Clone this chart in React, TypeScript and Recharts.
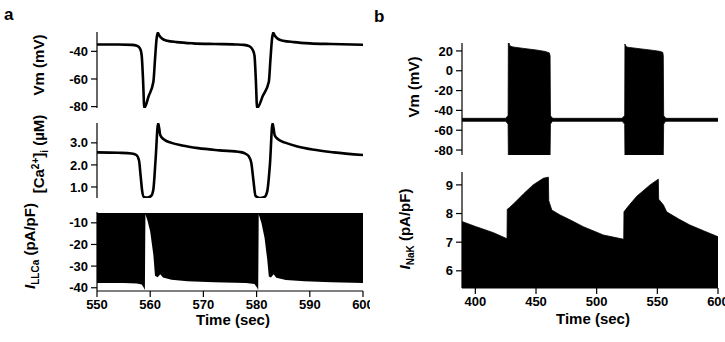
import React from 'react';
import { ComposedChart, Line, Area, XAxis, YAxis } from 'recharts';

const FONT = '"Liberation Sans", Arial, sans-serif';

// Panel a: membrane potential (mV)
const vmATime = [550, 554, 556.5, 557.5, 558.1, 558.4, 558.65, 558.9, 559.7, 560.6, 560.9, 561.2, 561.4, 561.7, 562.3, 563.2, 565, 568, 572, 576, 577.6, 578.6, 579.2, 579.6, 579.85, 580.1, 581.2, 582.3, 582.6, 582.9, 583.1, 583.4, 584, 585, 587, 590, 594, 600];
const vmAValue = [-35, -35, -35.3, -36, -38, -43, -60, -81, -72.5, -62, -46, -31, -26.5, -28.5, -31, -32.3, -33.3, -34.2, -34.7, -35, -35.3, -36.2, -38.5, -43, -60, -81, -72, -62, -46, -31, -26.5, -28.5, -31, -32.3, -33.3, -34.2, -34.7, -35.2];

// Panel a: [Ca2+]i (uM)
const caTime = [550, 554, 556.5, 557.4, 557.9, 558.2, 558.5, 558.8, 559.5, 560.2, 560.6, 561.0, 561.5, 561.9, 562.6, 564, 566, 569, 573, 577, 577.8, 578.5, 579.0, 579.4, 579.8, 580.6, 581.5, 582.0, 582.5, 583.0, 583.4, 584.1, 585.5, 587.5, 590.5, 594.5, 600];
const caValue = [2.57, 2.55, 2.52, 2.45, 2.2, 1.5, 0.8, 0.55, 0.52, 0.6, 0.9, 2.2, 3.9, 3.35, 3.15, 3.0, 2.88, 2.76, 2.66, 2.58, 2.52, 2.4, 2.1, 1.3, 0.6, 0.5, 0.55, 0.8, 2.0, 3.9, 3.35, 3.15, 3.0, 2.85, 2.7, 2.57, 2.45];

// Panel a: I_LLCa envelope (pA/pF)
const illcaTime = [550, 555, 557.5, 558.4, 558.8, 559.0, 559.1, 559.5, 560.0, 560.6, 560.9, 561.4, 561.9, 562.4, 564, 567, 572, 578, 579.6, 580.1, 580.3, 580.4, 580.9, 581.5, 582.0, 582.3, 582.7, 583.2, 583.7, 585.5, 589, 594, 600];
const illcaLow = [-37.8, -37.8, -38, -38.5, -40, -41, -6, -9, -14, -25, -34.5, -35.2, -33.8, -35.3, -36.3, -37, -37.5, -37.8, -38.3, -40, -41, -6, -10, -17, -27, -34.8, -35.3, -33.8, -35.4, -36.4, -37, -37.5, -37.8];
const illcaHigh = -5.5;

// Panel b: membrane potential envelope (mV)
const vmBTime = [389, 424.8, 426.2, 427.0, 427.2, 427.5, 428.5, 431, 440, 450, 457.5, 461.0, 461.6, 461.9, 462.6, 463.8, 520.8, 522.2, 523.1, 523.3, 523.6, 524.6, 527, 537, 547, 552.5, 554.5, 554.9, 555.2, 555.9, 557.1, 600];
const vmBLow = [-51, -51, -52.5, -54, -85, -85, -85, -85, -85, -85, -85, -85, -85, -54, -52.5, -51, -51, -52.5, -54, -85, -85, -85, -85, -85, -85, -85, -85, -85, -54, -52.5, -51, -51];
const vmBHigh = [-48, -48, -46.5, -45, 28, 29, 25, 24, 22.5, 21, 19.5, 18, 15, -45, -46.5, -48, -48, -46.5, -45, 27, 26, 24, 23.5, 22, 20.5, 19.5, 18.5, 15, -45, -46.5, -48, -48];

// Panel b: I_NaK upper envelope (pA/pF)
const inakTime = [389, 400, 415, 426.1, 426.3, 428, 433, 440, 447.6, 456, 460.2, 460.5, 463, 469.8, 478, 489, 505.5, 522.3, 522.5, 526, 533, 544, 550.8, 551.1, 555, 557.7, 560, 568, 576.8, 588, 600];
const inakValue = [7.72, 7.55, 7.33, 7.12, 8.15, 8.2, 8.4, 8.7, 9.0, 9.23, 9.27, 8.45, 8.12, 7.95, 7.78, 7.54, 7.25, 7.1, 8.06, 8.25, 8.6, 9.0, 9.2, 8.5, 8.3, 8.06, 8.0, 7.8, 7.6, 7.4, 7.19];
const inakBase = 5.4;

// Tick labels
const aTimeTicks = [550, 560, 570, 580, 590, 600];
const bTimeTicks = [400, 450, 500, 550, 600];
const vmATicks = [-80, -60, -40];
const caTicks = [1, 2, 3];
const illcaTicks = [-40, -30, -20, -10];
const vmBTicks = [-80, -60, -40, -20, 0, 20];
const inakTicks = [6, 7, 8, 9];

const vmAData = vmATime.map((t, i) => ({ t, v: vmAValue[i] }));
const caData = caTime.map((t, i) => ({ t, v: caValue[i] }));
const illcaData = illcaTime.map((t, i) => ({ t, r: [illcaLow[i], illcaHigh] }));
const vmBData = vmBTime.map((t, i) => ({ t, r: [vmBLow[i], vmBHigh[i]] }));
const inakData = inakTime.map((t, i) => ({ t, r: [inakBase, inakValue[i]] }));

const tickStyle = { fill: '#000', fontSize: 13, fontWeight: 700, fontFamily: FONT };
const axisLine = { stroke: '#000', strokeWidth: 1.2 };

function yAxisProps(domain: number[], ticks: number[], fmt?: (v: number) => string) {
  return {
    type: 'number' as const,
    domain,
    ticks,
    allowDataOverflow: true,
    width: 40,
    tickSize: 6,
    tickMargin: 3,
    axisLine,
    tickLine: axisLine,
    tick: tickStyle,
    interval: 0 as const,
    tickFormatter: fmt,
  };
}

function Pos({ left, top, children }: { left: number; top: number; children: React.ReactNode }) {
  return <div style={{ position: 'absolute', left, top }}>{children}</div>;
}

export default function App() {
  return (
    <div style={{ position: 'absolute', left: 0, top: 0, width: 725, height: 342, background: '#fff', overflow: 'hidden', fontFamily: FONT }}>
      {/* a1: Vm */}
      <Pos left={57} top={24}>
        <ComposedChart width={313} height={92} data={vmAData} margin={{ top: 8, right: 7, bottom: 8, left: 0 }}>
          <XAxis dataKey="t" type="number" domain={[550, 600]} hide allowDataOverflow />
          <YAxis {...yAxisProps([-81, -26], vmATicks)} />
          <Line type="monotone" dataKey="v" stroke="#000" strokeWidth={2.6} dot={false} activeDot={false} isAnimationActive={false} />
        </ComposedChart>
      </Pos>
      {/* a2: Ca */}
      <Pos left={57} top={117}>
        <ComposedChart width={313} height={87} data={caData} margin={{ top: 6, right: 7, bottom: 6, left: 0 }}>
          <XAxis dataKey="t" type="number" domain={[550, 600]} hide allowDataOverflow />
          <YAxis {...yAxisProps([0.5, 3.9], caTicks, (v: number) => v.toFixed(1))} />
          <Line type="monotone" dataKey="v" stroke="#000" strokeWidth={2.6} dot={false} activeDot={false} isAnimationActive={false} />
        </ComposedChart>
      </Pos>
      {/* a3: I_LLCa */}
      <Pos left={57} top={206}>
        <ComposedChart width={313} height={113} data={illcaData} margin={{ top: 6, right: 7, bottom: 0, left: 0 }}>
          <XAxis dataKey="t" type="number" domain={[550, 600]} ticks={aTimeTicks} interval={0} allowDataOverflow height={28} tickSize={6} tickMargin={3} axisLine={axisLine} tickLine={axisLine} tick={tickStyle} />
          <YAxis {...yAxisProps([-41.5, -5], illcaTicks)} />
          <Area type="linear" dataKey="r" stroke="none" fill="#000" fillOpacity={1} dot={false} activeDot={false} isAnimationActive={false} />
        </ComposedChart>
      </Pos>
      {/* b1: Vm */}
      <Pos left={422} top={35}>
        <ComposedChart width={303} height={128} data={vmBData} margin={{ top: 8, right: 7, bottom: 8, left: 0 }}>
          <XAxis dataKey="t" type="number" domain={[389, 600]} hide allowDataOverflow />
          <YAxis {...yAxisProps([-85, 28], vmBTicks)} />
          <Area type="linear" dataKey="r" stroke="#000" strokeWidth={0.8} fill="#000" fillOpacity={1} dot={false} activeDot={false} isAnimationActive={false} />
        </ComposedChart>
      </Pos>
      {/* b2: I_NaK */}
      <Pos left={422} top={166}>
        <ComposedChart width={303} height={150} data={inakData} margin={{ top: 6, right: 7, bottom: 0, left: 0 }}>
          <XAxis dataKey="t" type="number" domain={[389, 600]} ticks={bTimeTicks} interval={0} allowDataOverflow height={28} tickSize={6} tickMargin={3} axisLine={axisLine} tickLine={axisLine} tick={tickStyle} />
          <YAxis {...yAxisProps([5.4, 9.45], inakTicks)} />
          <Area type="linear" dataKey="r" stroke="#000" strokeWidth={0.8} fill="#000" fillOpacity={1} dot={false} activeDot={false} isAnimationActive={false} />
        </ComposedChart>
      </Pos>
      {/* text overlay */}
      <svg width={725} height={342} style={{ position: 'absolute', left: 0, top: 0, pointerEvents: 'none' }} fontFamily={FONT} fontWeight={700} fill="#000">
        <text x={4} y={20} fontSize={17}>a</text>
        <text x={374} y={22} fontSize={17}>b</text>
        <text transform="translate(44,65) rotate(-90)" textAnchor="middle" fontSize={15}>Vm (mV)</text>
        <text transform="translate(44,154) rotate(-90)" textAnchor="middle" fontSize={15}>
          [Ca<tspan dy={-5} fontSize={10}>2+</tspan><tspan dy={5}>]</tspan><tspan dy={4} fontSize={10}>i</tspan><tspan dy={-4}> (µM)</tspan>
        </text>
        <text transform="translate(35,246) rotate(-90)" textAnchor="middle" fontSize={15}>
          <tspan fontStyle="italic">I</tspan><tspan dy={4} fontSize={10}>LLCa</tspan><tspan dy={-4}> (pA/pF)</tspan>
        </text>
        <text transform="translate(419,87) rotate(-90)" textAnchor="middle" fontSize={15}>Vm (mV)</text>
        <text transform="translate(410,229) rotate(-90)" textAnchor="middle" fontSize={15}>
          <tspan fontStyle="italic">I</tspan><tspan dy={4} fontSize={10}>NaK</tspan><tspan dy={-4}> (pA/pF)</tspan>
        </text>
        <text x={233} y={325} textAnchor="middle" fontSize={15}>Time (sec)</text>
        <text x={593} y={324} textAnchor="middle" fontSize={15}>Time (sec)</text>
      </svg>
    </div>
  );
}
